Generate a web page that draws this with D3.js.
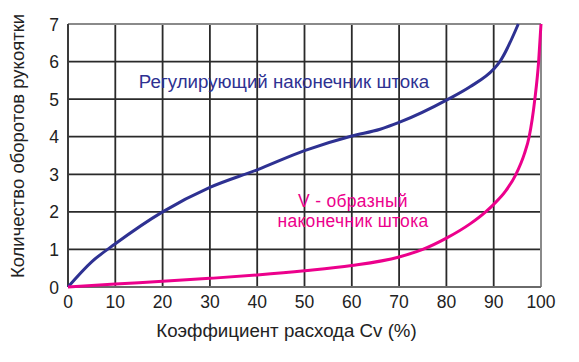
<!DOCTYPE html>
<html><head><meta charset="utf-8">
<script src="https://cdn.jsdelivr.net/npm/d3@7"></script>
<style>body{margin:0;background:#fff}svg{display:block}text{font-family:"Liberation Sans",Arial,sans-serif}</style>
</head><body><svg id="c" width="579" height="362"></svg>
<script>
const xTicks=[0,10,20,30,40,50,60,70,80,90,100];
const yTicks=[0,1,2,3,4,5,6,7];
const blueX=[0,5,10,20,30,40,50,60,66,70,80.4,85,90,91.3,95.2];
const blueY=[0,0.67,1.15,2.0,2.65,3.12,3.63,4.02,4.2,4.38,5.0,5.33,5.8,6.0,7.0];
const pinkX=[0,10,20,30,40,50,60,70,75,80,85,88.3,90,92.5,94.7,96.5,97.5,98.7,99.5,100];
const pinkY=[0,0.08,0.15,0.23,0.32,0.43,0.57,0.8,1.0,1.3,1.68,2.0,2.2,2.55,3.0,3.55,4.0,5.0,6.0,7.0];
const labelBlue="Регулирующий наконечник штока";
const labelPink=["V - образный","наконечник штока"];
const xTitle="Коэффициент расхода Cv (%)";
const yTitle="Количество оборотов рукоятки";

const svg=d3.select("#c");
const L=68,R=541,T=24,B=287;
const x=d3.scaleLinear().domain([0,100]).range([L,R]);
const y=d3.scaleLinear().domain([0,7]).range([B,T]);
const g=svg.append("g");
g.selectAll(".vx").data(xTicks.slice(1,-1)).join("line").attr("x1",d=>x(d)).attr("x2",d=>x(d)).attr("y1",T).attr("y2",B).attr("stroke","#2a2a2a").attr("stroke-width",1.8);
g.selectAll(".hy").data(yTicks.slice(1,-1)).join("line").attr("y1",d=>y(d)).attr("y2",d=>y(d)).attr("x1",L).attr("x2",R).attr("stroke","#2a2a2a").attr("stroke-width",1.8);
g.append("line").attr("x1",L).attr("x2",R).attr("y1",T).attr("y2",T).attr("stroke","#8a8a8a").attr("stroke-width",2);
g.append("line").attr("x1",R).attr("x2",R).attr("y1",T).attr("y2",B).attr("stroke","#8a8a8a").attr("stroke-width",2);
g.append("line").attr("x1",L).attr("x2",L).attr("y1",T).attr("y2",B).attr("stroke","#3a3a3a").attr("stroke-width",2);
g.append("line").attr("x1",L).attr("x2",R).attr("y1",B).attr("y2",B).attr("stroke","#6a6a6a").attr("stroke-width",2);
g.selectAll(".xt").data(xTicks).join("text").attr("x",d=>x(d)).attr("y",308).attr("text-anchor","middle").attr("font-size",17.5).attr("fill","#222").text(d=>d);
g.selectAll(".yt").data(yTicks).join("text").attr("x",59).attr("y",d=>y(d)+6.5).attr("text-anchor","end").attr("font-size",17.5).attr("fill","#222").text(d=>d);
const line=d3.line().x(d=>x(d[0])).y(d=>y(d[1])).curve(d3.curveMonotoneX);
g.append("path").attr("d",line(blueX.map((v,i)=>[v,blueY[i]]))).attr("fill","none").attr("stroke","#2e3192").attr("stroke-width",3);
g.append("path").attr("d",line(pinkX.map((v,i)=>[v,pinkY[i]]))).attr("fill","none").attr("stroke","#ec008c").attr("stroke-width",3);
g.append("text").attr("x",284).attr("y",88).attr("text-anchor","middle").attr("font-size",18.7).attr("fill","#2e3192").text(labelBlue);
g.selectAll(".pl").data(labelPink).join("text").attr("x",353).attr("y",(d,i)=>207+i*20).attr("text-anchor","middle").attr("font-size",17.5).attr("letter-spacing",0.3).attr("fill","#ec008c").text(d=>d);
g.append("text").attr("x",286.5).attr("y",337).attr("text-anchor","middle").attr("font-size",18.7).attr("fill","#222").text(xTitle);
g.append("text").attr("transform","translate(24,146) rotate(-90)").attr("text-anchor","middle").attr("font-size",18.5).attr("fill","#222").text(yTitle);
</script></body></html>
